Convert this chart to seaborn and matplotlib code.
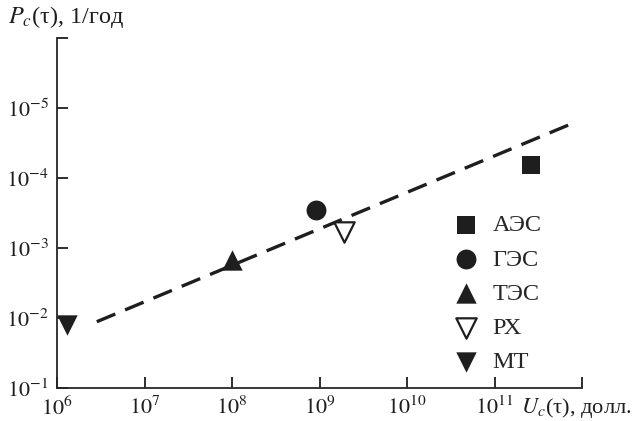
import numpy as np
import seaborn as sns
import matplotlib.pyplot as plt
from matplotlib.ticker import NullLocator

# data
labels = ['АЭС', 'ГЭС', 'ТЭС', 'РХ', 'МТ']
damage = [2.6e11, 9.2e8, 1.0e8, 1.9e9, 1.3e6]          # U_c(tau), USD
prob = [6.5e-5, 2.9e-4, 1.5e-3, 5.9e-4, 1.26e-2]      # P_c(tau), 1/year
markers = ['s', 'o', '^', 'v', 'v']
filled = [True, True, True, False, True]
sizes = [150, 205, 215, 215, 215]

fit_x = [2.85e6, 7.4e11]
fit_y = [1.13e-2, 1.7e-5]

xt = [1e6, 1e7, 1e8, 1e9, 1e10, 1e11, 1e12]
yt = [1e-1, 1e-2, 1e-3, 1e-4, 1e-5, 1e-6]

sns.set_theme(style="ticks")
plt.rcParams['font.family'] = ['Liberation Serif', 'DejaVu Serif']
plt.rcParams['mathtext.fontset'] = 'stix'
plt.rcParams['axes.linewidth'] = 1.3

ink = '#1e1e1e'

fig = plt.figure(figsize=(6.37, 4.21), dpi=100)
ax = fig.add_axes([0.0895, 0.0784, 0.8242, 0.8313])

# dashed trend line
sns.lineplot(x=fit_x, y=fit_y, ax=ax, color=ink, lw=2.4)
ax.lines[-1].set_dashes([6, 3.2])

for lab, xv, yv, m, f, s in zip(labels, damage, prob, markers, filled, sizes):
    sns.scatterplot(x=[xv], y=[yv], ax=ax, marker=m, s=s,
                    color=ink if f else 'white', edgecolor=ink,
                    linewidth=0 if f else 1.6, label=lab, zorder=3)

ax.set_xscale('log')
ax.set_yscale('log')
ax.set_xlim(1e6, 1e12)
ax.set_ylim(1e-1, 1e-6)

ax.set_xticks(xt)
ax.set_xticklabels([r'$10^{%d}$' % int(np.log10(v)) for v in xt[:-1]] + [''])
ax.set_yticks(yt)
ax.set_yticklabels([r'$10^{%d}$' % int(np.log10(v)) for v in yt[:-1]] + [''])
ax.xaxis.set_minor_locator(NullLocator())
ax.yaxis.set_minor_locator(NullLocator())

ax.tick_params(direction='in', length=8, width=1.3, labelsize=16, pad=6, colors=ink)
sns.despine(ax=ax)

ax.set_xlabel(r'$U_c$(τ), долл.', fontsize=16.2, color=ink, ha='left', va='center')
ax.xaxis.set_label_coords(0.884, -0.058)
fig.text(8 / 637, 1 - 17 / 421, r'$P_c$(τ), 1/год', fontsize=17.5, color=ink,
         ha='left', va='center')

ax.legend(loc='upper left', bbox_to_anchor=(0.756, 0.496), frameon=False,
          fontsize=17.5, scatterpoints=1, handlelength=1.0, handletextpad=0.58,
          labelspacing=0.5, borderpad=0, borderaxespad=0)

fig.savefig('out.png', dpi=100)
